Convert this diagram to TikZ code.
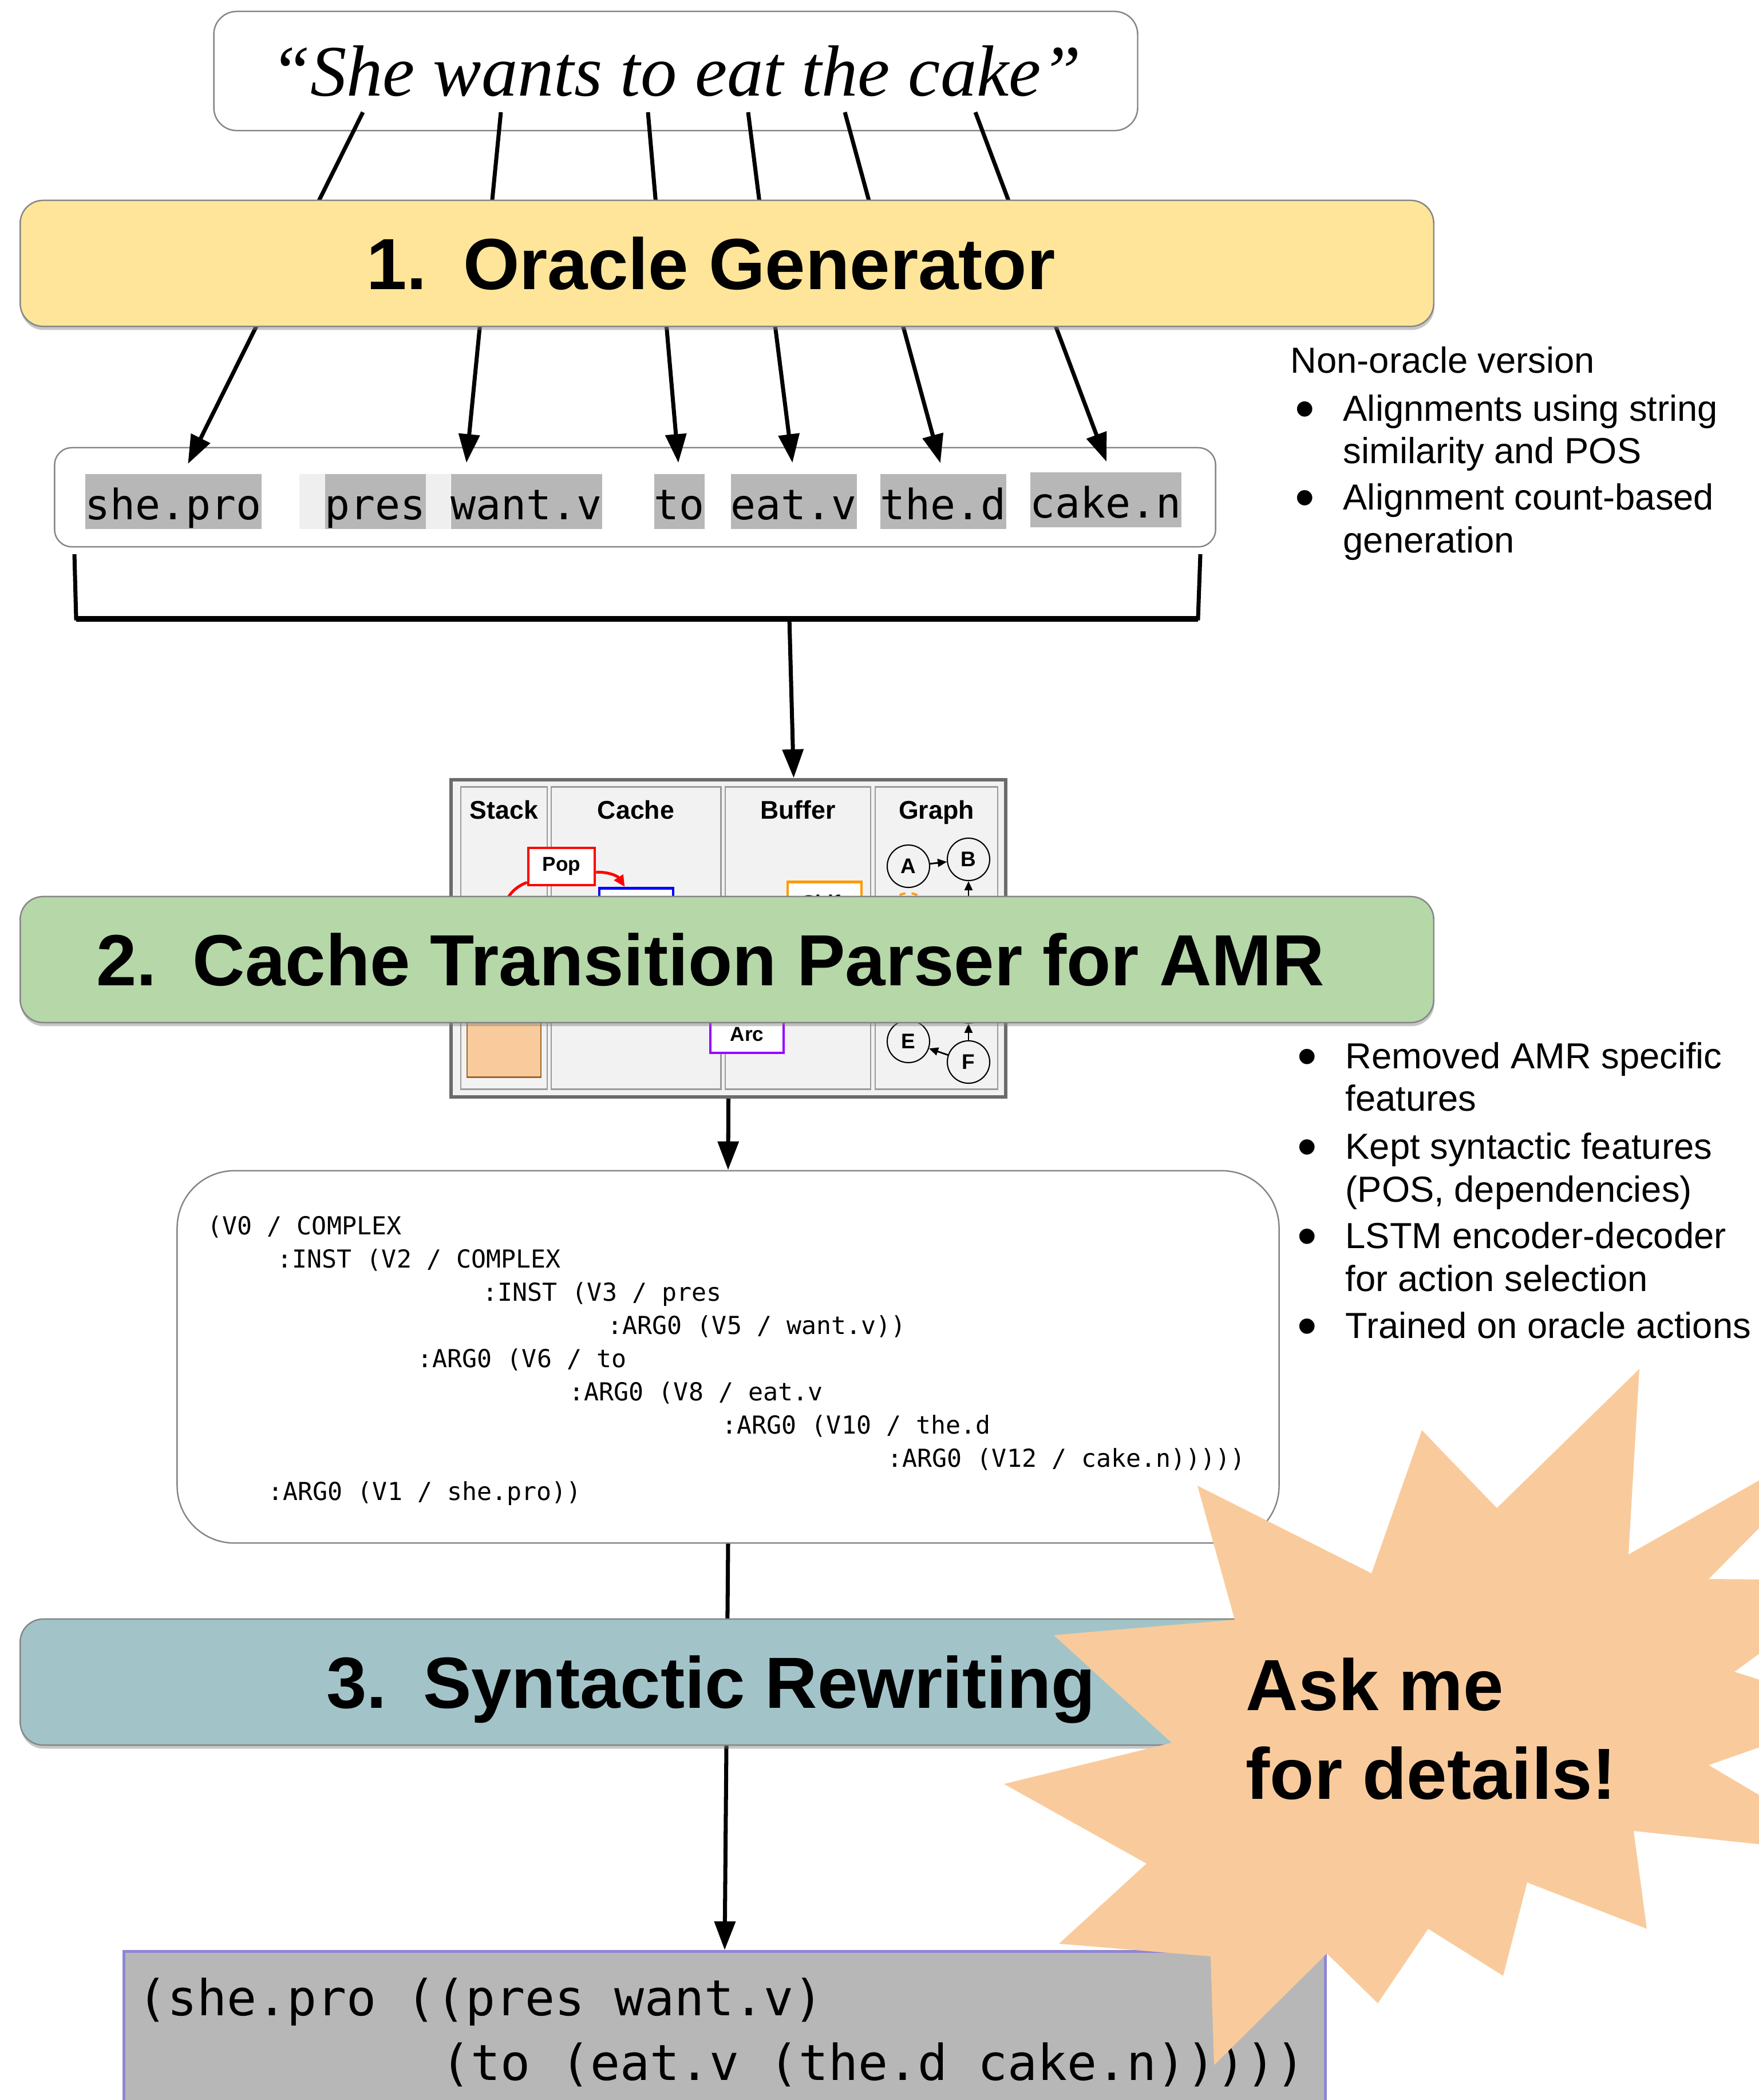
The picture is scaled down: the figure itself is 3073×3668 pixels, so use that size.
\documentclass[tikz,border=0pt]{standalone}
\usepackage{fontspec}
\setmainfont{Liberation Sans}
\setmonofont{DejaVu Sans Mono}
\newfontfamily\quotefont{Liberation Serif}
\usetikzlibrary{arrows.meta,shadows,positioning}

\definecolor{oracleYellow}{HTML}{FFE599}
\definecolor{parserGreen}{HTML}{B6D7A8}
\definecolor{rewriteBlue}{HTML}{A2C4C9}
\definecolor{starPeach}{HTML}{F9CB9C}
\definecolor{tokGray}{HTML}{B7B7B7}
\definecolor{tokLight}{HTML}{EFEFEF}
\definecolor{boxEdge}{HTML}{858585}
\definecolor{panelFill}{HTML}{F2F2F2}
\definecolor{panelEdge}{HTML}{9A9A9A}
\definecolor{panelFrame}{HTML}{6B6B6B}
\definecolor{finalPurple}{HTML}{8E86D4}
\definecolor{shiftOrange}{HTML}{FF9900}
\definecolor{arcPurple}{HTML}{9900FF}
\definecolor{stackEdge}{HTML}{A0652D}

\newcommand{\bulletmark}{\makebox[0.92cm][l]{\hspace{0.08cm}\raisebox{-0.12cm}{\fontsize{28}{28}\selectfont\textbullet}}}

\tikzset{
  roundbox/.style={draw=boxEdge, line width=0.7pt, fill=white, rounded corners=0.4cm, inner sep=0},
  stage/.style={roundbox, minimum width=24.68cm, minimum height=2.2cm,
    drop shadow={shadow xshift=0.3pt, shadow yshift=-1.8pt, opacity=0.45}},
  title/.style={font=\fontsize{36}{43}\selectfont\bfseries, text depth=0pt, inner sep=0},
  tok/.style={fill=tokGray, inner sep=0, anchor=base west, text height=0.79cm, text depth=0.17cm,
    font=\fontsize{20.8}{25}\selectfont\ttfamily},
  link/.style={line width=2pt},
  flow/.style={line width=2pt, -{Triangle[length=0.5cm,width=0.36cm]}},
  tokarrow/.style={flow, shorten >=0.19cm},
  panelcol/.style={draw=panelEdge, line width=0.8pt, fill=panelFill, minimum height=5.27cm, inner sep=0},
  panelhead/.style={font=\fontsize{12.7}{15}\selectfont\bfseries, inner sep=0, text depth=0pt},
  actbox/.style={fill=white, line width=1.3pt, inner sep=0, minimum width=1.29cm,
    font=\fontsize{10}{12}\selectfont\bfseries},
  gnode/.style={circle, draw, line width=0.6pt, fill=panelFill, minimum size=0.74cm, inner sep=0,
    font=\fontsize{10.5}{12}\selectfont\bfseries},
  garrow/.style={line width=0.8pt, -{Triangle[length=0.16cm,width=0.14cm]}},
  amrline/.style={anchor=base west, inner sep=0, font=\fontsize{12.3}{15}\selectfont\ttfamily},
  outline/.style={anchor=base west, inner sep=0, font=\fontsize{24.6}{30}\selectfont\ttfamily},
  sidenote/.style={anchor=base west, inner sep=0, font=\fontsize{18}{21.3}\selectfont}
}

\begin{document}
\begin{tikzpicture}[x=0.01cm, y=-0.01cm]
\useasboundingbox (0,0) rectangle (3073,3668);

% input sentence
\node[roundbox, minimum width=16.13cm, minimum height=2.08cm,
  font=\quotefont\itshape\fontsize{36}{43}\selectfont] (quote) at (1180.5,124) {“She wants to eat the cake”};
\coordinate (wShe) at (634,196);
\coordinate (wWants) at (875,196);
\coordinate (wTo) at (1132,196);
\coordinate (wEat) at (1307,196);
\coordinate (wThe) at (1476,196);
\coordinate (wCake) at (1704,196);

% token row
\node[roundbox, rounded corners=0.3cm, minimum width=20.27cm, minimum height=1.73cm] (tokRow) at (1109.5,868.5) {};
\fill[tokLight] (523,828) rectangle (787,924);
\node[tok] (tShe) at (148,907) {she.pro};
\node[tok] (tPres) at (567,907) {pres};
\node[tok] (tWant) at (787,907) {want.v};
\node[tok] (tTo) at (1142,907) {to};
\node[tok] (tEat) at (1276,907) {eat.v};
\node[tok] (tThe) at (1537,907) {the.d};
\node[tok] (tCake) at (1799,904) {cake.n};

\draw[tokarrow] (wShe) -- ([xshift=0.17cm]tShe.north);
\draw[tokarrow] (wWants) -- ([xshift=0.26cm]tWant.north west);
\draw[tokarrow] (wTo) -- (tTo.north);
\draw[tokarrow] (wEat) -- (tEat.north);
\draw[tokarrow] (wThe) -- (tThe.north);
\draw[tokarrow] (wCake) -- ([xshift=0.08cm]tCake.north);

% stage 1
\node[stage, fill=oracleYellow] (oracle) at (1270,460) {};
\node[title] (oracleTitle) at ([xshift=-0.28cm]oracle.center) {1.\enspace Oracle Generator};

% brace under the tokens
\draw[link] (130,968) -- (133,1080) -- (2093,1080) -- (2097,968);
\draw[line width=2.8pt] (133,1081) -- (2093,1081);
\coordinate (braceMid) at (1379,1080);

% parser snapshot
\node[draw=panelFrame, line width=1.7pt, fill=panelFill, minimum width=9.69cm, minimum height=5.54cm, inner sep=0] (parser) at (1272.5,1639) {};
\draw[flow] (braceMid) -- ([xshift=1.14cm]parser.north);

\node[panelcol, minimum width=1.51cm] (colStack) at (880.5,1638.5) {};
\node[panelcol, minimum width=2.96cm] (colCache) at (1111,1638.5) {};
\node[panelcol, minimum width=2.54cm] (colBuffer) at (1394,1638.5) {};
\node[panelcol, minimum width=2.14cm] (colGraph) at (1636,1638.5) {};
\node[panelhead, below=0.24cm of colStack.north] (hStack) {Stack};
\node[panelhead, below=0.24cm of colCache.north] (hCache) {Cache};
\node[panelhead, below=0.24cm of colBuffer.north] (hBuffer) {Buffer};
\node[panelhead, below=0.24cm of colGraph.north] (hGraph) {Graph};

\node[draw=stackEdge, fill=starPeach, line width=0.8pt, minimum width=1.29cm, minimum height=1.8cm, anchor=south] (stackTop) at (880.5,1883) {};
\node[actbox, draw=red, minimum width=1.16cm, minimum height=0.65cm] (pop) at (981,1513.5) {Pop};
\node[actbox, draw=blue, anchor=north, minimum height=1cm] (pushBox) at (1111.5,1549) {};
\node[actbox, draw=shiftOrange, anchor=north, minimum height=0.72cm] (shiftBox) at (1440.5,1538) {Shift};
\node[actbox, draw=arcPurple, minimum width=1.28cm, minimum height=0.64cm] (arcBox) at (1305,1807) {Arc};
\coordinate (popDrop) at (872,1660);
\draw[red, line width=1.4pt, -{Triangle[length=0.2cm,width=0.18cm]}] ([yshift=-0.1cm]pop.east) to[bend left=30] ([xshift=-0.2cm]pushBox.north);
\draw[red, line width=1.4pt] ([yshift=0.07cm]pop.south west) to[out=200, in=90] (popDrop);

\node[gnode] (gA) at (1587,1513) {A};
\node[gnode] (gB) at (1692,1501) {B};
\node[gnode] (gC) at (1692,1612) {};
\node[gnode, draw=shiftOrange, dashed, line width=1pt] (gNew) at (1587,1597) {};
\node[gnode] (gD) at (1692,1750) {};
\node[gnode] (gE) at (1587,1819) {E};
\node[gnode] (gF) at (1692,1855) {F};
\draw[garrow] (gA) -- (gB);
\draw[garrow] (gC) -- (gB);
\draw[garrow] (gF) -- (gE);
\draw[garrow] (gF) -- (gD);

% stage 2
\node[stage, fill=parserGreen] (cacheParser) at (1270,1676) {};
\node[title] (cacheTitle) at ([xshift=-0.29cm]cacheParser.center) {2.\enspace Cache Transition Parser for AMR};

% notes
\node[sidenote] (oracleNotes) at (2254,651) {\begin{tabular}[t]{@{}l@{}l@{}}
\multicolumn{2}{@{}l@{}}{Non-oracle version}\\[2.6pt]
\bulletmark & Alignments using string\\
 & similarity and POS\\[1.7pt]
\bulletmark & Alignment count-based\\
 & generation
\end{tabular}};
\node[sidenote] (parserNotes) at (2258,1866) {\begin{tabular}[t]{@{}l@{}l@{}}
\bulletmark & Removed AMR specific\\
 & features\\[2.6pt]
\bulletmark & Kept syntactic features\\
 & (POS, dependencies)\\[1.7pt]
\bulletmark & LSTM encoder-decoder\\
 & for action selection\\[2pt]
\bulletmark & Trained on oracle actions
\end{tabular}};

% parser output
\node[roundbox, rounded corners=1cm, minimum width=19.24cm, minimum height=6.5cm] (amrBox) at (1272,2370) {};
\draw[flow] (parser.south) -- (amrBox.north);
\node[amrline] (amr1) at (362,2156) {(V0 / COMPLEX};
\node[amrline] (amr2) at (484,2214) {:INST (V2 / COMPLEX};
\node[amrline] (amr3) at (843,2272) {:INST (V3 / pres};
\node[amrline] (amr4) at (1061,2330) {:ARG0 (V5 / want.v))};
\node[amrline] (amr5) at (729,2388) {:ARG0 (V6 / to};
\node[amrline] (amr6) at (994,2446) {:ARG0 (V8 / eat.v};
\node[amrline] (amr7) at (1261,2504) {:ARG0 (V10 / the.d};
\node[amrline] (amr8) at (1550,2562) {:ARG0 (V12 / cake.n)))))};
\node[amrline] (amr9) at (468,2620) {:ARG0 (V1 / she.pro))};

% rewritten output
\node[draw=finalPurple, line width=1.4pt, fill=tokGray, minimum width=20.98cm, minimum height=4cm, anchor=north, inner sep=0] (surface) at (1266,3406) {};
\node[outline] (out1) at (240,3520) {(she.pro ((pres want.v)};
\node[outline] (out2) at (770,3633) {(to (eat.v (the.d cake.n)))))};
\draw[flow] (amrBox.south) -- (surface.north);

% stage 3
\node[stage, fill=rewriteBlue] (rewrite) at (1270,2938) {};
\node[title] (rewriteTitle) at ([xshift=-0.28cm]rewrite.center) {3.\enspace Syntactic Rewriting};

% burst
\begin{scope}
\clip (0,0) rectangle (3073,3668);
\fill[starPeach] (2864,2391) -- (2845,2715) -- (3260,2480) -- (2985,2758) -- (3250,2760)
  -- (3030,2920) -- (3250,2990) -- (2985,3083) -- (3250,3240) -- (2854,3198)
  -- (2877,3369) -- (2668,3288) -- (2626,3451) -- (2495,3369) -- (2407,3499)
  -- (2318,3412) -- (2121,3607) -- (2115,3417) -- (1850,3395) -- (2003,3255)
  -- (1754,3116) -- (2047,3044) -- (1841,2856) -- (2157,2829) -- (2092,2595)
  -- (2396,2748) -- (2484,2498) -- (2615,2634) -- cycle;
\end{scope}
\node[font=\fontsize{36}{44}\selectfont\bfseries, align=left, inner sep=0, anchor=north west] (askMe) at (2176,2895) {Ask me\\for details!};

\end{tikzpicture}
\end{document}
